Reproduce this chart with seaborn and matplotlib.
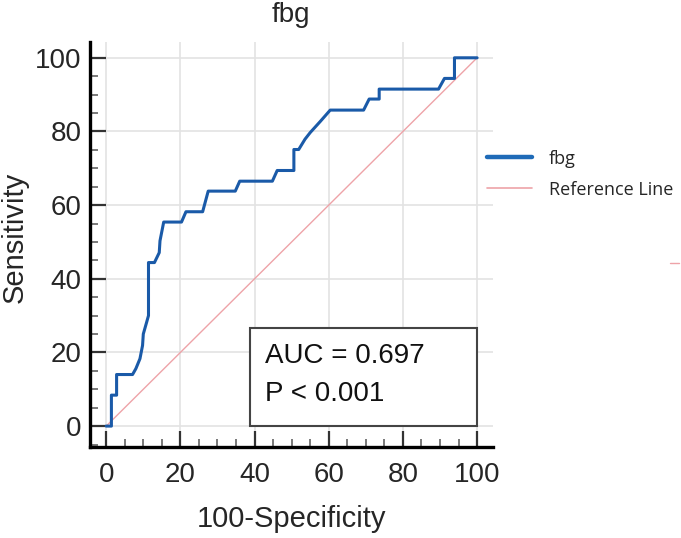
import matplotlib
matplotlib.use("Agg")
import matplotlib.pyplot as plt
import seaborn as sns
import pandas as pd
from matplotlib.lines import Line2D
from matplotlib.patches import Rectangle
from matplotlib.ticker import MultipleLocator

# ROC curve points (100-Specificity, Sensitivity)
fpr = [0, 1.4, 1.4, 2.8, 2.8, 7.1, 8.0, 9.1, 9.8, 10.0, 10.9, 11.4, 11.4, 13.0, 14.3, 14.5,
       15.5, 20.3, 21.5, 26.0, 27.5, 34.8, 36.0, 44.8, 46.1, 50.6, 50.6, 51.9, 53.6, 55.0,
       57.7, 60.4, 69.4, 70.9, 73.6, 73.6, 89.6, 91.2, 93.9, 93.9, 100]
sens = [0, 0, 8.4, 8.4, 14, 14, 15.6, 18.3, 21.9, 25, 28.2, 30, 44.4, 44.4, 47.1, 50.3,
        55.4, 55.4, 58.2, 58.2, 63.8, 63.8, 66.5, 66.5, 69.4, 69.4, 75.1, 75.1, 77.9, 79.7,
        82.7, 85.8, 85.8, 88.8, 88.8, 91.5, 91.5, 94.4, 94.4, 100, 100]
ref_x = [0, 100]
ref_y = [0, 100]
ticks = [0, 20, 40, 60, 80, 100]
series_name = "fbg"
ref_name = "Reference Line"
auc_text = "AUC = 0.697"
p_text = "P < 0.001"

sns.set_style("white")
plt.rcParams['font.family'] = ['Liberation Sans', 'DejaVu Sans']

fig = plt.figure(figsize=(6.81, 5.38), dpi=100)
ax = fig.add_axes([0.132, 0.169, 0.592, 0.753])

curve_color = "#1a5aa8"
ref_color = "#eea3a8"

df = pd.DataFrame({"x": fpr, "y": sens})
dref = pd.DataFrame({"x": ref_x, "y": ref_y})
sns.lineplot(data=dref, x="x", y="y", ax=ax, color=ref_color, lw=1.0, sort=False,
             estimator=None, zorder=2)
sns.lineplot(data=df, x="x", y="y", ax=ax, color=curve_color, lw=2.2, sort=False,
             estimator=None, zorder=3)

ax.set_xlim(-4.4, 104.3)
ax.set_ylim(-5.7, 104.3)
ax.set_xticks(ticks)
ax.set_yticks(ticks)
ax.xaxis.set_minor_locator(MultipleLocator(5))
ax.yaxis.set_minor_locator(MultipleLocator(5))
ax.tick_params(axis='both', which='both', bottom=True, left=True, direction='in')
ax.tick_params(axis='both', which='major', length=11.5, width=1.6,
               color='#333333', labelsize=20)
ax.tick_params(axis='both', which='minor', length=6, width=1.1, color='#555555')
ax.tick_params(axis='x', which='major', pad=11)
ax.tick_params(axis='y', which='major', pad=6)

ax.grid(True, which='major', color='#e3e3e3', lw=1.2, zorder=0)
for s in ['top', 'right']:
    ax.spines[s].set_visible(False)
for s in ['left', 'bottom']:
    ax.spines[s].set_color('black')
    ax.spines[s].set_linewidth(2.4)

ax.set_xlabel("100-Specificity", fontsize=21, labelpad=12)
ax.set_ylabel("Sensitivity", fontsize=21)
ax.yaxis.set_label_coords(-0.151, 0.518)
fig.text(0.427, 0.972, "fbg", ha='center', va='center', fontsize=20)

# AUC box
ax.add_patch(Rectangle((38.7, 0), 61.3, 26.7, fill=True, facecolor='white',
                       edgecolor='#444444', lw=1.5, zorder=4))
ax.text(42.7, 19.0, auc_text, fontsize=20, va='center', zorder=5, color='#111111')
ax.text(42.7, 8.8, p_text, fontsize=20, va='center', zorder=5, color='#111111')

handles = [Line2D([], [], color="#1f6bb8", lw=3.2), Line2D([], [], color=ref_color, lw=1.2)]
fig.legend(handles, [series_name, ref_name], loc='upper left', bbox_to_anchor=(0.705, 0.735),
           frameon=False, prop={'family': 'Open Sans', 'size': 13}, handlelength=2.45,
           handletextpad=0.95, labelspacing=0.72, borderaxespad=0)

fig.add_artist(Line2D([0.984, 0.997], [0.511, 0.511], color=ref_color, lw=1.0,
                      transform=fig.transFigure))

fig.savefig("out.png", dpi=100)
